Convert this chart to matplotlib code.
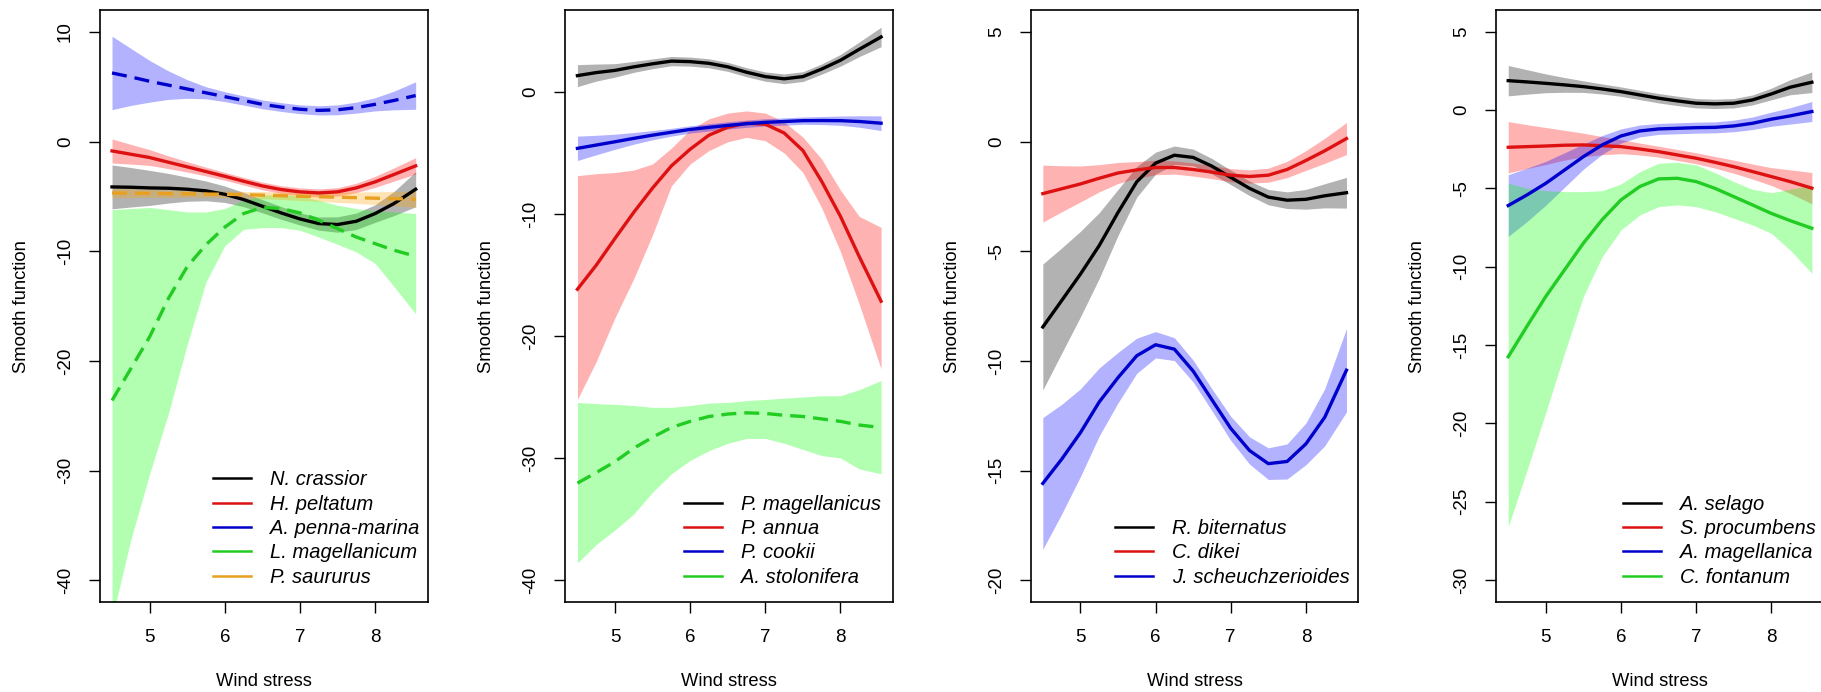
import numpy as np
import matplotlib.pyplot as plt
from matplotlib.lines import Line2D

plt.rcParams['font.family'] = ['Liberation Sans', 'DejaVu Sans']
plt.rcParams['axes.unicode_minus'] = False

wind = [4.5, 4.75, 5.0, 5.25, 5.5, 5.75, 6.0, 6.25, 6.5, 6.75,
        7.0, 7.25, 7.5, 7.75, 8.0, 8.25, 8.54]

# --- panel 1 ---
crassior = [-4.13, -4.16, -4.22, -4.25, -4.34, -4.49, -4.8, -5.28, -5.89, -6.5,
            -7.05, -7.47, -7.56, -7.26, -6.56, -5.65, -4.34]
crassior_se = [2.0, 1.8, 1.6, 1.35, 1.1, 0.9, 0.75, 0.65, 0.6, 0.58,
               0.55, 0.6, 0.7, 0.75, 0.8, 1.1, 1.6]
peltatum = [-0.85, -1.15, -1.45, -1.88, -2.3, -2.73, -3.16, -3.61, -4.04, -4.37,
            -4.58, -4.68, -4.58, -4.22, -3.67, -3.0, -2.21]
peltatum_se = [1.1, 0.9, 0.72, 0.58, 0.47, 0.4, 0.36, 0.35, 0.35, 0.35,
               0.36, 0.37, 0.38, 0.42, 0.5, 0.6, 0.75]
penna = [6.26, 5.9, 5.5, 5.15, 4.8, 4.45, 4.1, 3.75, 3.4, 3.15,
         2.95, 2.85, 2.9, 3.1, 3.4, 3.75, 4.2]
penna_se = [3.35, 2.6, 1.9, 1.3, 0.85, 0.55, 0.45, 0.42, 0.4, 0.4,
            0.4, 0.42, 0.45, 0.5, 0.6, 0.85, 1.25]
lycopod = [-23.6, -20.7, -17.8, -14.3, -11.4, -9.4, -7.8, -6.56, -6.0, -6.1,
           -6.5, -7.17, -7.93, -8.7, -9.3, -9.9, -10.45]
lycopod_lo = [-43.5, -36.3, -30.3, -24.8, -18.5, -12.8, -9.5, -8.0, -7.84, -7.84,
              -8.08, -8.7, -9.36, -10.06, -11.1, -13.2, -15.7]
lycopod_hi = [-6.2, -6.1, -6.0, -6.2, -6.41, -6.41, -6.1, -5.35, -4.89, -4.8,
              -4.98, -5.35, -5.8, -6.1, -6.32, -6.41, -6.56]
saururus = [-4.68, -4.7, -4.72, -4.74, -4.76, -4.78, -4.8, -4.84, -4.88, -4.93,
            -4.98, -5.02, -5.07, -5.11, -5.16, -5.2, -5.25]
saururus_se = [0.45, 0.4, 0.37, 0.34, 0.32, 0.3, 0.3, 0.3, 0.32, 0.35,
               0.38, 0.42, 0.47, 0.52, 0.58, 0.65, 0.75]

# --- panel 2 ---
poa_mag = [1.34, 1.59, 1.77, 2.06, 2.31, 2.53, 2.49, 2.35, 2.06, 1.62,
           1.26, 1.08, 1.26, 1.88, 2.6, 3.5, 4.51]
poa_mag_se = [0.9, 0.7, 0.55, 0.45, 0.4, 0.38, 0.37, 0.37, 0.37, 0.37,
              0.38, 0.4, 0.4, 0.42, 0.48, 0.6, 0.8]
annua = [-16.17, -14.2, -12.0, -9.86, -7.87, -6.06, -4.69, -3.54, -2.89, -2.56,
         -2.64, -3.36, -4.8, -7.33, -10.2, -13.5, -17.15]
annua_lo = [-25.2, -22.1, -18.5, -15.3, -11.7, -7.7, -5.9, -4.8, -4.08, -3.72,
            -4.0, -5.0, -6.6, -9.5, -13.1, -17.4, -22.7]
annua_hi = [-6.86, -6.7, -6.6, -6.4, -5.9, -4.6, -3.1, -2.2, -1.73, -1.55,
            -1.73, -2.45, -3.7, -5.5, -8.05, -10.2, -11.1]
cookii = [-4.62, -4.35, -4.08, -3.8, -3.54, -3.3, -3.07, -2.9, -2.74, -2.6,
          -2.49, -2.42, -2.35, -2.34, -2.35, -2.42, -2.56]
cookii_se = [1.0, 0.8, 0.62, 0.48, 0.38, 0.32, 0.3, 0.3, 0.3, 0.3,
             0.3, 0.3, 0.3, 0.33, 0.38, 0.47, 0.6]
stolonifera = [-32.06, -31.2, -30.3, -29.2, -28.3, -27.5, -27.0, -26.6, -26.4, -26.3,
               -26.35, -26.5, -26.6, -26.8, -27.0, -27.3, -27.5]
stolonifera_lo = [-38.6, -37.1, -35.9, -34.6, -32.8, -31.3, -30.2, -29.4, -28.8, -28.4,
                  -28.4, -28.8, -29.3, -29.8, -30.0, -30.9, -31.3]
stolonifera_hi = [-25.45, -25.55, -25.6, -25.7, -25.85, -25.85, -25.7, -25.5, -25.45, -25.3,
                  -25.2, -25.1, -25.0, -24.9, -24.9, -24.4, -23.65]

# --- panel 3 ---
biternatus = [-8.45, -7.25, -6.04, -4.74, -3.23, -1.83, -0.98, -0.62, -0.72, -1.12,
              -1.63, -2.13, -2.53, -2.67, -2.63, -2.47, -2.33]
biternatus_se = [2.87, 2.4, 1.95, 1.5, 1.05, 0.7, 0.5, 0.42, 0.38, 0.35,
                 0.33, 0.33, 0.35, 0.38, 0.45, 0.55, 0.7]
dikei = [-2.37, -2.15, -1.93, -1.67, -1.43, -1.29, -1.18, -1.18, -1.27, -1.39,
         -1.53, -1.59, -1.53, -1.27, -0.86, -0.42, 0.14]
dikei_se = [1.3, 1.05, 0.82, 0.62, 0.48, 0.38, 0.33, 0.3, 0.3, 0.3,
            0.3, 0.3, 0.32, 0.37, 0.45, 0.57, 0.73]
juncus = [-15.58, -14.48, -13.27, -11.87, -10.76, -9.76, -9.26, -9.46, -10.46, -11.77,
          -13.07, -14.08, -14.68, -14.58, -13.78, -12.57, -10.42]
juncus_se = [3.0, 2.5, 2.0, 1.55, 1.15, 0.8, 0.6, 0.52, 0.5, 0.5,
             0.55, 0.62, 0.72, 0.8, 0.95, 1.3, 1.9]

# --- panel 4 ---
selago = [1.87, 1.79, 1.70, 1.60, 1.49, 1.34, 1.17, 0.96, 0.75, 0.58,
          0.43, 0.39, 0.43, 0.64, 1.02, 1.45, 1.77]
selago_se = [0.97, 0.78, 0.6, 0.47, 0.37, 0.32, 0.3, 0.3, 0.3, 0.3,
             0.3, 0.3, 0.3, 0.32, 0.37, 0.48, 0.66]
procumbens = [-2.38, -2.34, -2.3, -2.25, -2.23, -2.28, -2.34, -2.49, -2.66, -2.87,
              -3.08, -3.34, -3.62, -3.93, -4.25, -4.57, -4.99]
procumbens_se = [1.64, 1.4, 1.18, 0.95, 0.75, 0.58, 0.45, 0.38, 0.35, 0.35,
                 0.35, 0.37, 0.42, 0.48, 0.57, 0.75, 1.0]
acaena = [-6.1, -5.42, -4.68, -3.83, -2.98, -2.23, -1.66, -1.34, -1.21, -1.17,
          -1.13, -1.11, -1.02, -0.85, -0.59, -0.38, -0.10]
acaena_se = [1.97, 1.7, 1.4, 1.1, 0.8, 0.6, 0.45, 0.38, 0.35, 0.35,
             0.35, 0.35, 0.37, 0.4, 0.45, 0.52, 0.64]
fontanum = [-15.75, -13.8, -11.9, -10.2, -8.5, -7.0, -5.74, -4.89, -4.4, -4.36,
            -4.57, -5.0, -5.53, -6.06, -6.6, -7.06, -7.55]
fontanum_lo = [-26.6, -23.0, -19.3, -15.5, -11.9, -9.36, -7.66, -6.70, -6.17, -6.06,
               -6.17, -6.49, -6.91, -7.34, -7.87, -8.94, -10.42]
fontanum_hi = [-4.68, -4.99, -5.15, -5.21, -5.21, -5.15, -4.72, -3.94, -3.40, -3.34,
               -3.51, -4.0, -4.57, -5.06, -5.28, -5.06, -4.79]

LINE = {'k': 'black', 'r': '#dd1111', 'b': '#0000cc', 'g': '#22cc22', 'o': '#e8a020'}
FILL = {'k': 'black', 'r': 'red', 'b': 'blue', 'g': '#00ff00', 'o': 'orange'}


def se_band(fit, se):
    fit, se = np.asarray(fit), np.asarray(se)
    return fit - se, fit + se


# (label, fit, lower, upper, colour key, dashed)
panels = [
    dict(ylim=(-42.0, 12.0), yticks=[-40, -30, -20, -10, 0, 10], legx=0.345, series=[
        ('N. crassior', crassior, *se_band(crassior, crassior_se), 'k', False),
        ('H. peltatum', peltatum, *se_band(peltatum, peltatum_se), 'r', False),
        ('A. penna-marina', penna, *se_band(penna, penna_se), 'b', True),
        ('L. magellanicum', lycopod, lycopod_lo, lycopod_hi, 'g', True),
        ('P. saururus', saururus, *se_band(saururus, saururus_se), 'o', True),
    ]),
    dict(ylim=(-41.83, 6.72), yticks=[-40, -30, -20, -10, 0], legx=0.363, series=[
        ('P. magellanicus', poa_mag, *se_band(poa_mag, poa_mag_se), 'k', False),
        ('P. annua', annua, annua_lo, annua_hi, 'r', False),
        ('P. cookii', cookii, *se_band(cookii, cookii_se), 'b', False),
        ('A. stolonifera', stolonifera, stolonifera_lo, stolonifera_hi, 'g', True),
    ]),
    dict(ylim=(-21.0, 6.0), yticks=[-20, -15, -10, -5, 0, 5], legx=0.258, series=[
        ('R. biternatus', biternatus, *se_band(biternatus, biternatus_se), 'k', False),
        ('C. dikei', dikei, *se_band(dikei, dikei_se), 'r', False),
        ('J. scheuchzerioides', juncus, *se_band(juncus, juncus_se), 'b', False),
    ]),
    dict(ylim=(-31.42, 6.38), yticks=[-30, -25, -20, -15, -10, -5, 0, 5], legx=0.387, series=[
        ('A. selago', selago, *se_band(selago, selago_se), 'k', False),
        ('S. procumbens', procumbens, *se_band(procumbens, procumbens_se), 'r', False),
        ('A. magellanica', acaena, *se_band(acaena, acaena_se), 'b', False),
        ('C. fontanum', fontanum, fontanum_lo, fontanum_hi, 'g', False),
    ]),
]

W, H = 1821, 692
fig = plt.figure(figsize=(W / 100, H / 100), dpi=100)

for i, p in enumerate(panels):
    left = 100 + 465.4 * i
    ax = fig.add_axes([left / W, 89.7 / H, 327.7 / W, 592.3 / H])

    for label, fit, lo, hi, c, dashed in p['series']:
        ax.fill_between(wind, lo, hi, color=FILL[c], alpha=0.3, lw=0)
    for label, fit, lo, hi, c, dashed in p['series']:
        ls = (0, (4.5, 2.4)) if dashed else '-'
        ax.plot(wind, fit, color=LINE[c], lw=2.4, ls=ls,
                solid_joinstyle='round', dash_joinstyle='round')

    ax.set_xlim(4.34, 8.70)
    ax.set_ylim(*p['ylim'])
    ax.set_xticks([5, 6, 7, 8])
    ax.set_yticks(p['yticks'])
    ax.tick_params(direction='out', length=7.7, width=1.0, labelsize=13.5)
    ax.tick_params(axis='x', pad=11.5)
    ax.tick_params(axis='y', pad=11, labelrotation=90)
    for t in ax.get_yticklabels():
        t.set_va('center')
    for s in ax.spines.values():
        s.set_linewidth(1.2)

    ax.set_xlabel('Wind stress', fontsize=13.2)
    ax.xaxis.set_label_coords(0.5, -0.119)
    ax.set_ylabel('Smooth function', fontsize=13.2)
    ax.yaxis.set_label_coords(-0.214, 0.5)

    handles = [Line2D([], [], color=LINE[s[4]], lw=1.8) for s in p['series']]
    ax.legend(handles, [s[0] for s in p['series']], loc='lower left',
              bbox_to_anchor=(p['legx'], 0.026), frameon=False,
              borderpad=0, borderaxespad=0, handlelength=1.89,
              handletextpad=0.92, labelspacing=0.27,
              prop={'style': 'italic', 'size': 14.5})

fig.savefig('out.png', dpi=100)
